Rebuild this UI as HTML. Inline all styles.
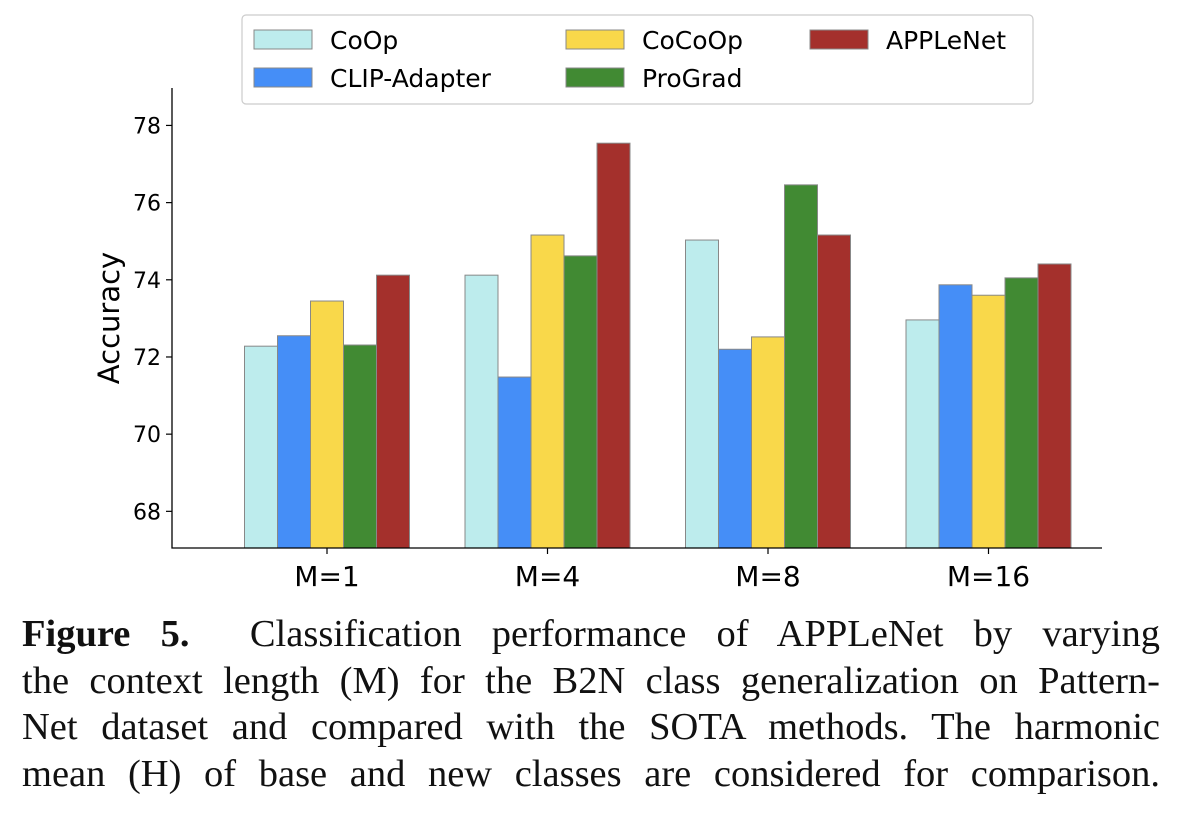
<!DOCTYPE html>
<html><head><meta charset="utf-8"><style>
body{margin:0;background:#fff;width:1178px;height:838px;overflow:hidden}
.cap{position:absolute;left:22px;width:1138px;top:611px;font-family:"Liberation Serif",serif;font-size:38.5px;line-height:46.7px;color:#111}
.ln{display:block;text-align:justify;text-align-last:justify;height:46.7px}
</style></head><body>
<svg width="1178" height="600" style="position:absolute;left:0;top:0">
<g id="chart"></g>
</svg>
<div class="cap">
<span class="ln"><b>Figure 5.</b>&nbsp; Classification performance of APPLeNet by varying</span>
<span class="ln">the context length (M) for the B2N class generalization on Pattern-</span>
<span class="ln">Net dataset and compared with the SOTA methods. The harmonic</span>
<span class="ln">mean (H) of base and new classes are considered for comparison.</span>
</div>
<script>
const categories=["M=1","M=4","M=8","M=16"];
const seriesNames=["CoOp","CLIP-Adapter","CoCoOp","ProGrad","APPLeNet"];
const coop=[72.28,74.12,75.03,72.96];
const clipAdapter=[72.55,71.48,72.2,73.87];
const cocoop=[73.45,75.16,72.52,73.6];
const prograd=[72.31,74.62,76.46,74.05];
const applenet=[74.12,77.54,75.16,74.41];
const yTicks=[68,70,72,74,76,78];
const series=[coop,clipAdapter,cocoop,prograd,applenet];
const colors=["#bdeced","#458ef7","#f9d84a","#418a33","#a4302c"];
const NS="http://www.w3.org/2000/svg";
const g=document.getElementById('chart');
const x0=172,x1=1102,yTop=88,yBot=548,vMin=67.05,vMax=78.97;
const y=v=>yBot-(v-vMin)/(vMax-vMin)*(yBot-yTop);
const gx=i=>327+i*220.5;
const bw=33;
function el(t,a){const e=document.createElementNS(NS,t);for(const k in a)e.setAttribute(k,a[k]);g.appendChild(e);return e;}
series.forEach((s,si)=>{s.forEach((v,ci)=>{
 const r=el('rect',{x:gx(ci)+(si-2.5)*bw,y:y(v),width:bw,height:yBot-y(v),fill:colors[si],stroke:'#888','stroke-width':1});
 
 
});});
const ax=el('path',{d:`M${x0} ${yTop}V${yBot}H${x1}`,stroke:'#000','stroke-width':1.3,fill:'none'});


yTicks.forEach(t=>{
 el('line',{x1:x0-6,x2:x0,y1:y(t),y2:y(t),stroke:'#000','stroke-width':1.2});
 const tx=el('text',{x:x0-11,y:y(t)+8,'text-anchor':'end','font-family':'DejaVu Sans, sans-serif','font-size':22});
 tx.textContent=t;
 
 
});
categories.forEach((c,i)=>{
 el('line',{x1:gx(i),x2:gx(i),y1:yBot,y2:yBot+6,stroke:'#000','stroke-width':1.2});
 const tx=el('text',{x:gx(i),y:yBot+38,'text-anchor':'middle','font-family':'DejaVu Sans, sans-serif','font-size':28});
 tx.textContent=c;
 
 
});
const yl=el('text',{x:0,y:0,transform:'translate(119,318) rotate(-90)','text-anchor':'middle','font-family':'DejaVu Sans, sans-serif','font-size':29});
yl.textContent='Accuracy';


const lb=el('rect',{x:242,y:15,width:791,height:89,rx:4,fill:'#fff',stroke:'#ccc','stroke-width':1.2});


const pos=[[254,30],[254,68],[566,30],[566,68],[810,30]];
seriesNames.forEach((n,i)=>{
 const [px,py]=pos[i];
 const r=el('rect',{x:px,y:py,width:58,height:19,fill:colors[i],stroke:'#888','stroke-width':1});
 
 
 const t=el('text',{x:px+76,y:py+19,'font-family':'DejaVu Sans, sans-serif','font-size':25});
 t.textContent=n;
 
 
});
</script>
</body></html>
